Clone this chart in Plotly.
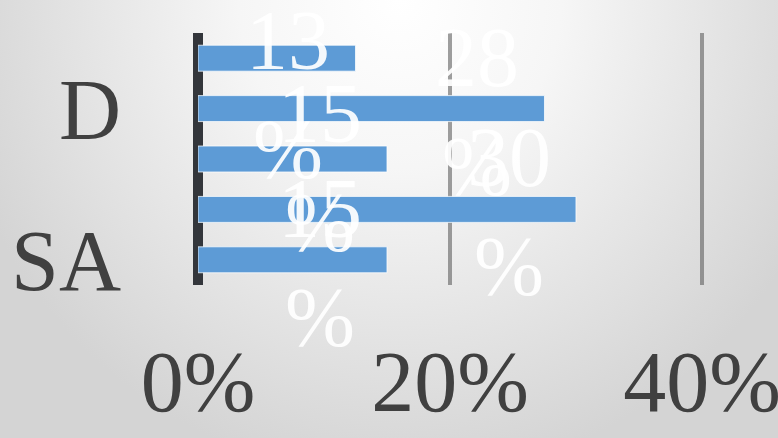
import base64
import plotly.graph_objects as go

# ---- data (bottom to top, as in the source chart) ----
categories = ["SA", "A", "N", "D", "SD"]
values = [0.15, 0.30, 0.15, 0.275, 0.125]
x_tick_vals = [0, 0.2, 0.4]
y_tick_labels = categories[::3]  # every third category label is shown

W, H = 778, 438
L, R, T, B = 198, 71, 33, 153
pw, ph = W - L - R, H - T - B

SERIF = "Liberation Serif"
TXT = "#404040"
BLUE = "#5D9BD6"

# soft radial grey background (slide-like)
svg = f'''<svg xmlns="http://www.w3.org/2000/svg" width="{W}" height="{H}">
<defs><radialGradient id="g" cx="0" cy="0" r="1" gradientUnits="userSpaceOnUse"
 gradientTransform="translate(400,0) scale(460,480)">
<stop offset="0" stop-color="#ffffff"/><stop offset="0.35" stop-color="#f6f6f6"/>
<stop offset="1" stop-color="#d4d4d4"/></radialGradient></defs>
<rect width="{W}" height="{H}" fill="url(#g)"/></svg>'''
bg = "data:image/svg+xml;base64," + base64.b64encode(svg.encode()).decode()

fig = go.Figure()
fig.add_trace(go.Bar(
    x=values, y=categories, orientation="h",
    marker=dict(color=BLUE, line=dict(color="rgba(255,255,255,0.75)", width=1)),
    hoverinfo="skip",
))

# data labels: value on one line, % on the next (large white serif)
label_yshift = {"SD": -37, "N": -9}
for c, v in zip(categories, values):
    pct = int(v * 100 + 0.5)
    fig.add_annotation(
        x=v, y=c, xref="x", yref="y", text=f"{pct}<br>%", showarrow=False,
        xanchor="center", yanchor="middle", xshift=-67,
        yshift=label_yshift.get(c, -3),
        font=dict(family=SERIF, size=84, color="rgba(255,255,255,0.93)"),
    )

fig.update_layout(
    width=W, height=H,
    margin=dict(l=L, r=R, t=T, b=B, pad=0, autoexpand=False),
    paper_bgcolor="#e6e6e6", plot_bgcolor="rgba(0,0,0,0)",
    showlegend=False, bargap=0.485,
    images=[dict(source=bg, xref="paper", yref="paper",
                 x=-L / pw, y=1 + T / ph, sizex=W / pw, sizey=H / ph,
                 xanchor="left", yanchor="top", sizing="stretch", layer="below")],
    xaxis=dict(
        range=[0, 0.404], tickvals=x_tick_vals, tickformat=".0%",
        showgrid=True, gridcolor="rgba(95,95,95,0.6)", gridwidth=4,
        zeroline=True, zerolinecolor="#33363b", zerolinewidth=10,
        layer="above traces", showline=False, ticks="", automargin=False,
        tickfont=dict(family=SERIF, size=86, color=TXT),
        ticklabelstandoff=39, ticklabeloverflow="allow",
    ),
    yaxis=dict(
        type="category", categoryorder="array", categoryarray=categories,
        range=[-0.5, 4.5], tickvals=y_tick_labels, showgrid=False,
        zeroline=False, showline=False, ticks="", automargin=False,
        tickfont=dict(family=SERIF, size=86, color=TXT),
        ticklabelstandoff=76,
    ),
)

fig.write_html("out.html")
